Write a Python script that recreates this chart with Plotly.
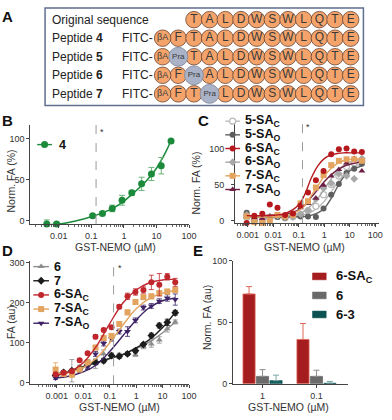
import numpy as np
import plotly.graph_objects as go

W, H = 392, 420
FONT = "Liberation Sans, Arial, Helvetica, sans-serif"
INK = "#333333"
AX = "#444444"

# ======================= DATA =======================
# ---- Panel A: peptide sequences ----
A_row_labels = ["Original sequence", "Peptide <b>4</b>", "Peptide <b>5</b>",
                "Peptide <b>6</b>", "Peptide <b>7</b>"]
A_prefixes = ["", "FITC-", "FITC-", "FITC-", "FITC-"]
A_sequences = [
    ["", "", "T", "A", "L", "D", "W", "S", "W", "L", "Q", "T", "E"],
    ["βA", "F", "T", "A", "L", "D", "W", "S", "W", "L", "Q", "T", "E"],
    ["βA", "Pra", "T", "A", "L", "D", "W", "S", "W", "L", "Q", "T", "E"],
    ["βA", "F", "Pra", "A", "L", "D", "W", "S", "W", "L", "Q", "T", "E"],
    ["βA", "F", "T", "Pra", "L", "D", "W", "S", "W", "L", "Q", "T", "E"],
]

# ---- Panel B: peptide 4 ----
B_conc = [0.0043, 0.0086, 0.11, 0.22, 0.44, 0.88, 1.75, 3.5, 7.0, 14.0, 28.0]
B_fa = [-4, -4, 6, 9, 15, 25, 34, 45, 57, 67, 97]
B_err = [5, 2, 1.5, 2, 4, 6, 3, 8, 8, 10, 0]
B_fit_conc = [0.0043, 0.01, 0.02, 0.05, 0.1, 0.2, 0.5, 1, 2, 5, 10, 20, 28]
B_fit = [-5, -4, -2, 1.5, 5, 9, 16, 24, 34, 49, 64, 85, 98]

# ---- Panel C: normalized FA ----
C_conc = [0.0009, 0.0018, 0.0037, 0.0073, 0.0146, 0.029, 0.059, 0.117,
          0.23, 0.47, 0.94, 1.88, 3.75, 7.5, 15, 30]
C_names = ["5-SA<sub>C</sub>", "5-SA<sub>O</sub>", "6-SA<sub>C</sub>",
           "6-SA<sub>O</sub>", "7-SA<sub>C</sub>", "7-SA<sub>O</sub>"]
C_5SAc = [5, 0, -2, 3, 6, 4, 6, 8, 14, 20, 36, 50, 62, 75, 80, 82]
C_5SAo = [11, 0, 3, -5, 5, 4, 8, 6, 6, 5, 17, 36, 51, 66, 72, 79]
C_6SAc = [-3, 7, 9.5, 22.5, 18, 8, 10, 21, 39, 56, 69, 92, 99, 100, 96, 95]
C_6SAo = [8, 2, 3, 6, 7, 5, 5, 9, 14, 30, 45, 52, 65, 62, 58, 86]
C_7SAc = [6, -2, -3, 0, 8, 6, 8, 24, 27, 46, 63, 77, 83, 85, 85, 83]
C_7SAo = [6, 4, 3, 5, 6, 5, 8, 18, 24, 31, 49, 62, 71, 80, 86, 69]
C_fit_conc = [0.0009, 0.003, 0.01, 0.03, 0.1, 0.18, 0.3, 0.56, 1, 1.8, 3.2, 5.6, 10, 30]
C_fit_5SAc = [5, 5, 5, 5.5, 7, 9, 12, 18, 27, 39, 52, 63, 71, 79]
C_fit_5SAo = [5, 5, 5, 5, 5.5, 6, 7.5, 11, 17, 30, 46, 60, 69, 76]
C_fit_6SAc = [7, 7, 7.5, 10, 22, 38, 58, 76, 86, 91, 93, 94, 94, 94]
C_fit_6SAo = [6, 6, 6, 7, 10, 14, 21, 31, 44, 57, 68, 76, 81, 85]
C_fit_7SAc = [5, 5, 5.5, 7, 14, 22, 34, 48, 62, 72, 79, 83, 85, 86]
C_fit_7SAo = [7, 7, 7.5, 9, 15, 22, 32, 43, 54, 63, 70, 75, 78, 82]

# ---- Panel D: FA (au) ----
D_conc = [0.0009, 0.0018, 0.0037, 0.0073, 0.0146, 0.029, 0.059, 0.117,
          0.23, 0.47, 0.94, 1.88, 3.75, 7.5, 15, 30]
D_names = ["6", "7", "6-SA<sub>C</sub>", "7-SA<sub>C</sub>", "7-SA<sub>O</sub>"]
D_6 = [24, 20, 30, 36, 45, 48, 72, 70, 70, 74, 70, 90, 97, 107, 135, 152]
D_6_err = [6, 5, 28, 8, 6, 12, 10, 5, 4, 4, 4, 5, 8, 8, 8, 5]
D_7 = [18, 26, 30, 36, 45, 51, 55, 68, 66, 72, 80, 96, 118, 143, 151, 175]
D_7_err = [4, 4, 4, 5, 12, 6, 5, 4, 5, 4, 4, 4, 6, 6, 8, 6]
D_6SAc = [21, 25, 29, 56, 74, 115, 132, 139, 190, 216, 227, 232, 251, 245, 265, 251]
D_6SAc_err = [4, 4, 4, 4, 4, 5, 4, 4, 5, 8, 8, 8, 18, 28, 8, 10]
D_7SAc = [33, 22, 20, 33, 51, 88, 112, 117, 147, 176, 202, 214, 216, 224, 228, 232]
D_7SAc_err = [17, 5, 5, 5, 5, 6, 5, 5, 5, 6, 6, 6, 6, 6, 6, 6]
D_7SAo = [12, 20, 23, 30, 40, 72, 98, 110, 128, 128, 156, 188, 192, 204, 212, 208]
D_7SAo_err = [4, 4, 4, 4, 5, 6, 6, 6, 6, 12, 6, 6, 6, 6, 8, 14]
D_fit_conc = [0.0009, 0.0032, 0.01, 0.032, 0.1, 0.32, 1, 3.2, 10, 30]
D_fit_6 = [22, 30, 40, 50, 60, 70, 85, 102, 125, 152]
D_fit_7 = [18, 28, 40, 51, 61, 71, 87, 108, 138, 176]
D_fit_6SAc = [19, 28, 50, 92, 148, 200, 232, 250, 257, 259]
D_fit_7SAc = [22, 27, 38, 62, 100, 145, 185, 211, 224, 230]
D_fit_7SAo = [12, 17, 27, 45, 78, 118, 157, 188, 205, 212]

# ---- Panel E: bars ----
E_categories = ["1", "0.1"]
E_names = ["6-SA<sub>C</sub>", "6", "6-3"]
E_6SAc = [73, 36]
E_6SAc_err = [6, 13]
E_6 = [6, 6]
E_6_err = [5.5, 5]
E_63 = [2.5, 0.4]
E_63_err = [4.5, 1.5]

KD_line = 0.14  # dashed reference concentration (µM)

# ======================= STYLE =======================
ORANGE, ORANGE_EDGE = "#f4a46b", "#6a4330"
PRA, PRA_EDGE = "#a9b2c6", "#7d8699"
GREEN, GREEN_ERR = "#1b8b3b", "#6bb27a"
C_style = {
    "5-SA<sub>C</sub>": dict(color="#bdbdbd", symbol="circle", fill="white"),
    "5-SA<sub>O</sub>": dict(color="#5e5e5e", symbol="circle", fill=None),
    "6-SA<sub>C</sub>": dict(color="#b5191e", symbol="circle", fill=None),
    "6-SA<sub>O</sub>": dict(color="#a8a8a8", symbol="diamond", fill=None),
    "7-SA<sub>C</sub>": dict(color="#e3a45f", symbol="square", fill=None),
    "7-SA<sub>O</sub>": dict(color="#6e1f45", symbol="triangle-up", fill=None),
}
D_style = {
    "6": dict(color="#8c8c8c", symbol="triangle-up"),
    "7": dict(color="#1c1c1c", symbol="diamond"),
    "6-SA<sub>C</sub>": dict(color="#c0272d", symbol="circle"),
    "7-SA<sub>C</sub>": dict(color="#e3a45f", symbol="square"),
    "7-SA<sub>O</sub>": dict(color="#3e2466", symbol="triangle-down"),
}
E_colors = ["#a51d1f", "#6a6a6a", "#0c5253"]
E_err_colors = ["#de6a5a", "#8c8c8c", "#7aa5a5"]
LEG_FS = 12.5


def dom_x(p0, p1):
    return [p0 / W, p1 / W]


def dom_y(top, bot):
    return [1 - bot / H, 1 - top / H]


fig = go.Figure()

# ======================= PANEL A =======================
A_x0, A_dx, A_y0, A_dy = 166, 16, 15, 19
groups = {"norm": dict(x=[], y=[], t=[], col=ORANGE, edge=ORANGE_EDGE, size=16.5, fs=12),
          "ba": dict(x=[], y=[], t=[], col=ORANGE, edge=ORANGE_EDGE, size=16.5, fs=9),
          "pra": dict(x=[], y=[], t=[], col=PRA, edge=PRA_EDGE, size=19, fs=8)}
for r, seq in enumerate(A_sequences):
    for i, aa in enumerate(seq):
        if not aa:
            continue
        g = groups["pra" if aa == "Pra" else ("ba" if aa == "βA" else "norm")]
        g["x"].append(A_x0 + A_dx * i)
        g["y"].append(A_y0 + A_dy * r)
        g["t"].append(aa)
for g in groups.values():
    fig.add_trace(go.Scatter(
        x=g["x"], y=g["y"], text=g["t"], mode="markers+text", textposition="middle center",
        marker=dict(color=g["col"], size=g["size"], line=dict(color=g["edge"], width=0.8)),
        textfont=dict(family=FONT, size=g["fs"], color="#3a3a3a"),
        xaxis="x9", yaxis="y9", hoverinfo="skip", cliponaxis=False))

annotations = []
shapes = []
shapes.append(dict(type="rect", xref="x9", yref="y9", x0=46, x1=371, y0=3, y1=103,
                   line=dict(color="#5f6f8f", width=1.5), fillcolor="rgba(0,0,0,0)"))
for r, (lab, pre) in enumerate(zip(A_row_labels, A_prefixes)):
    yy = A_y0 + A_dy * r
    annotations.append(dict(xref="x9", yref="y9", x=51, y=yy, text=lab, showarrow=False,
                            xanchor="left", yanchor="middle",
                            font=dict(family=FONT, size=12, color="#222")))
    if pre:
        annotations.append(dict(xref="x9", yref="y9", x=158, y=yy, text=pre, showarrow=False,
                                xanchor="right", yanchor="middle",
                                font=dict(family=FONT, size=12, color="#222")))

# ======================= PANEL B =======================
fig.add_trace(go.Scatter(x=B_fit_conc, y=B_fit, mode="lines", line=dict(color=GREEN, width=1.5, shape="spline"),
                         xaxis="x", yaxis="y", hoverinfo="skip"))
fig.add_trace(go.Scatter(x=B_conc, y=B_fa, mode="markers",
                         marker=dict(color=GREEN, size=7),
                         error_y=dict(type="data", array=B_err, color=GREEN_ERR, thickness=1, width=3),
                         xaxis="x", yaxis="y", cliponaxis=False))

# ======================= PANEL C =======================
C_series = [C_5SAc, C_5SAo, C_6SAc, C_6SAo, C_7SAc, C_7SAo]
C_fits = [C_fit_5SAc, C_fit_5SAo, C_fit_6SAc, C_fit_6SAo, C_fit_7SAc, C_fit_7SAo]
order = [0, 1, 3, 5, 4, 2]
for k in order:
    nm = C_names[k]
    st = C_style[nm]
    fig.add_trace(go.Scatter(x=C_fit_conc, y=C_fits[k], mode="lines",
                             line=dict(color=st["color"], width=1.4, shape="spline"),
                             xaxis="x2", yaxis="y2", hoverinfo="skip"))
    fig.add_trace(go.Scatter(x=C_conc, y=C_series[k], mode="markers",
                             marker=dict(color=st["fill"] or st["color"], symbol=st["symbol"], size=6,
                                         line=dict(color=st["color"], width=1.3 if st["fill"] else 0)),
                             xaxis="x2", yaxis="y2", cliponaxis=False))

# ======================= PANEL D =======================
D_series = [D_6, D_7, D_6SAc, D_7SAc, D_7SAo]
D_errs = [D_6_err, D_7_err, D_6SAc_err, D_7SAc_err, D_7SAo_err]
D_fits = [D_fit_6, D_fit_7, D_fit_6SAc, D_fit_7SAc, D_fit_7SAo]
for k in [0, 1, 4, 3, 2]:
    nm = D_names[k]
    st = D_style[nm]
    fig.add_trace(go.Scatter(x=D_fit_conc, y=D_fits[k], mode="lines",
                             line=dict(color=st["color"], width=1.4, shape="spline"),
                             xaxis="x3", yaxis="y3", hoverinfo="skip"))
    fig.add_trace(go.Scatter(x=D_conc, y=D_series[k], mode="markers",
                             marker=dict(color=st["color"], symbol=st["symbol"], size=6),
                             error_y=dict(type="data", array=D_errs[k], color=st["color"],
                                          thickness=0.8, width=2.5),
                             xaxis="x3", yaxis="y3", cliponaxis=False))

# ======================= PANEL E =======================
E_vals = [E_6SAc, E_6, E_63]
E_errs = [E_6SAc_err, E_6_err, E_63_err]
for k in range(3):
    mk = dict(color=E_colors[k], line=dict(color=E_err_colors[k] if k == 0 else E_colors[k], width=0.8))
    if k == 2:
        mk["pattern"] = dict(shape=".", fgcolor="#3f9a8c", bgcolor=E_colors[k], size=3, solidity=0.25)
    fig.add_trace(go.Bar(x=[0, 1], y=E_vals[k], marker=mk,
                         error_y=dict(type="data", symmetric=False, array=E_errs[k], arrayminus=[0, 0],
                                      color=E_err_colors[k], thickness=1, width=3),
                         xaxis="x4", yaxis="y4"))

# ======================= LEGENDS (manual) =======================
def legend_row(x0, x1, y, color, symbol, fill, size, label, txt_x):
    fig.add_trace(go.Scatter(x=[x0, x1], y=[y, y], mode="lines", line=dict(color=color, width=1.4),
                             xaxis="x9", yaxis="y9", hoverinfo="skip"))
    fig.add_trace(go.Scatter(x=[(x0 + x1) / 2], y=[y], mode="markers",
                             marker=dict(color=fill or color, symbol=symbol, size=size,
                                         line=dict(color=color, width=1.3 if fill else 0)),
                             xaxis="x9", yaxis="y9", hoverinfo="skip"))
    annotations.append(dict(xref="x9", yref="y9", x=txt_x, y=y, text="<b>" + label + "</b>",
                            showarrow=False, xanchor="left", yanchor="middle",
                            font=dict(family=FONT, size=LEG_FS, color="#111")))

legend_row(38, 53, 143, GREEN, "circle", None, 7, "4", 58)
for i, nm in enumerate(C_names):
    st = C_style[nm]
    legend_row(230, 245, 119 + 14 * i, st["color"], st["symbol"], st["fill"], 6, nm, 248)
for i, nm in enumerate(D_names):
    st = D_style[nm]
    legend_row(34, 50, 268 + 14.5 * i, st["color"], st["symbol"], None, 6, nm, 53)
for i, nm in enumerate(E_names):
    yy = 278 + 19.5 * i
    shapes.append(dict(type="rect", xref="x9", yref="y9", x0=319, x1=333, y0=yy - 3.5, y1=yy + 3.5,
                       fillcolor=E_colors[i], line=dict(color=E_colors[i], width=0.5)))
    annotations.append(dict(xref="x9", yref="y9", x=341, y=yy, text="<b>" + nm + "</b>",
                            showarrow=False, xanchor="left", yanchor="middle",
                            font=dict(family=FONT, size=LEG_FS + 0.5, color="#111")))

# dashed reference lines + asterisks
for xa, ya, yr in [("x", "y", [-4, 117]), ("x2", "y2", [-3.4, 139]), ("x3", "y3", [-4, 305])]:
    fig.add_trace(go.Scatter(x=[KD_line, KD_line], y=yr, mode="lines",
                             line=dict(color="#9a9a9a", width=1, dash="dash"),
                             xaxis=xa, yaxis=ya, hoverinfo="skip"))
    annotations.append(dict(xref=xa, yref=ya + " domain", x=np.log10(KD_line), y=1, text="*",
                            showarrow=False, xanchor="left", yanchor="top", xshift=2,
                            font=dict(family=FONT, size=9, color="#333")))

# panel letters
for letter, (lx, ly) in {"A": (8, 12), "B": (8, 118), "C": (208, 118),
                         "D": (8, 251), "E": (202, 251)}.items():
    annotations.append(dict(xref="x9", yref="y9", x=lx, y=ly, text="<b>" + letter + "</b>",
                            showarrow=False, xanchor="center", yanchor="middle",
                            font=dict(family=FONT, size=15, color="#111")))

# axis titles
TF = dict(family=FONT, size=10.5, color=INK)
for tx, ty, txt, ang in [(118, 248, "GST-NEMO (µM)", 0), (311, 248, "GST-NEMO (µM)", 0),
                         (122, 412, "GST-NEMO (µM)", 0), (294, 412, "GST-NEMO (µM)", 0),
                         (11, 180, "Norm. FA (%)", -90), (200, 182, "Norm. FA (%)", -90),
                         (11, 325, "FA (au)", -90), (212, 320, "Norm. FA (au)", -90)]:
    annotations.append(dict(xref="x9", yref="y9", x=tx, y=ty, text=txt, textangle=ang,
                            showarrow=False, xanchor="center", yanchor="middle", font=TF))

# ======================= AXES =======================
axc = dict(showline=True, linecolor=AX, linewidth=1, ticks="outside", ticklen=3, tickwidth=1,
           tickcolor=AX, showgrid=False, zeroline=False, fixedrange=True,
           tickfont=dict(family=FONT, size=9, color=INK))
minor_vals = [k * 10.0 ** e for e in range(-5, 3) for k in range(2, 10)]
log_minor = dict(tickvals=minor_vals, ticks="outside", ticklen=2, tickcolor=AX, tickwidth=0.8, showgrid=False)
dec_vals = [0.001, 0.01, 0.1, 1, 10, 100]
dec_text = ["0.001", "0.01", "0.1", "1", "10", "100"]

fig.update_layout(
    width=W, height=H, margin=dict(l=0, r=0, t=0, b=0), showlegend=False,
    paper_bgcolor="white", plot_bgcolor="rgba(0,0,0,0)", barmode="group",
    bargap=0.25, bargroupgap=0.1,
    xaxis=dict(axc, type="log", domain=dom_x(31, 193), range=[-2.87, 2.0], anchor="y",
               tickvals=dec_vals[1:], ticktext=dec_text[1:], minor=log_minor),
    yaxis=dict(axc, domain=dom_y(122.6, 224.4), range=[-4, 117], anchor="x",
               tickvals=[0, 50, 100]),
    xaxis2=dict(axc, type="log", domain=dom_x(240, 387), range=[-3.5, 2.154], anchor="y2",
                tickvals=dec_vals, ticktext=dec_text, minor=log_minor),
    yaxis2=dict(axc, domain=dom_y(118, 223.5), range=[-3.4, 139.2], anchor="x2",
                tickvals=[0, 50, 100], ticklabelstandoff=5),
    xaxis3=dict(axc, type="log", domain=dom_x(31, 193), range=[-4.0, 2.0], anchor="y3",
                tickvals=dec_vals, ticktext=dec_text, minor=log_minor),
    yaxis3=dict(axc, domain=dom_y(262, 388.6), range=[-4, 305], anchor="x3",
                tickvals=[0, 100, 200, 300]),
    xaxis4=dict(axc, domain=dom_x(238, 355), range=[-0.545, 1.58], anchor="y4",
                tickvals=[0, 1], ticktext=E_categories),
    yaxis4=dict(axc, domain=dom_y(262, 388), range=[0, 100], anchor="x4",
                tickvals=[0, 50, 100]),
    xaxis9=dict(domain=[0, 1], range=[0, W], visible=False, fixedrange=True, anchor="y9"),
    yaxis9=dict(domain=[0, 1], range=[H, 0], visible=False, fixedrange=True, anchor="x9"),
    annotations=annotations, shapes=shapes,
    font=dict(family=FONT, color=INK),
)

fig.write_html("out.html", config={"displayModeBar": False, "staticPlot": True},
               post_script="document.body.style.margin='0';")
